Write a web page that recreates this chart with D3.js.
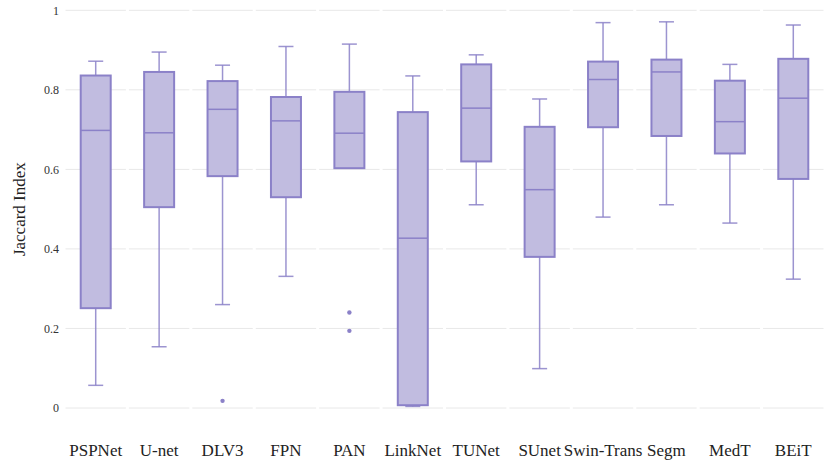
<!DOCTYPE html>
<html>
<head>
<meta charset="utf-8">
<script src="https://cdn.jsdelivr.net/npm/d3@7"></script>
<style>
  body { margin: 0; background: #fff; }
  svg { display: block; font-family: "Liberation Serif", "Times New Roman", serif; }
</style>
</head>
<body>
<svg id="chart" width="837" height="464"></svg>
<script>
// models on the x axis
const models = ["PSPNet", "U-net", "DLV3", "FPN", "PAN", "LinkNet", "TUNet", "SUnet", "Swin-Trans", "Segm", "MedT", "BEiT"]

// box statistics
const lowerWhisker = [0.057, 0.154, 0.260, 0.331, 0.603, 0.004, 0.511, 0.099, 0.480, 0.511, 0.465, 0.324]
const q1 = [0.251, 0.505, 0.583, 0.530, 0.603, 0.007, 0.620, 0.380, 0.706, 0.684, 0.640, 0.576]
const median = [0.698, 0.692, 0.751, 0.722, 0.691, 0.427, 0.754, 0.549, 0.826, 0.845, 0.720, 0.779]
const q3 = [0.836, 0.845, 0.822, 0.782, 0.795, 0.744, 0.864, 0.707, 0.871, 0.876, 0.823, 0.878]
const upperWhisker = [0.872, 0.895, 0.862, 0.909, 0.915, 0.835, 0.888, 0.777, 0.969, 0.971, 0.864, 0.963]
const outliers = [[], [], [0.018], [], [0.240, 0.194], [], [], [], [], [], [], []]

const yTicks = [0, 0.2, 0.4, 0.6, 0.8, 1]

const width = 837, height = 464
const margin = { top: 10, right: 12, bottom: 56, left: 64 }

const stroke = "#8b81c8"
const fill = "#c1bce0"

const svg = d3.select("#chart")

const x = d3.scaleBand()
  .domain(models)
  .range([margin.left, width - margin.right])

const y = d3.scaleLinear()
  .domain([0, 1])
  .range([height - margin.bottom, margin.top + 0.3])

// grid, broken at every band edge
const grid = svg.append("g")
yTicks.forEach(t => {
  grid.selectAll(null)
    .data(models)
    .enter().append("line")
      .attr("x1", d => x(d) + 1.5)
      .attr("x2", d => x(d) + x.bandwidth() - 1.5)
      .attr("y1", y(t))
      .attr("y2", y(t))
      .attr("stroke", "#e8e8e8")
      .attr("stroke-width", 1)
})

// y axis labels
svg.append("g")
  .attr("transform", `translate(${margin.left - 2},0)`)
  .call(d3.axisLeft(y).tickValues(yTicks).tickSize(0).tickFormat(d3.format("~g")))
  .call(g => g.select(".domain").remove())
  .call(g => g.selectAll("text")
    .attr("font-family", "Liberation Serif, serif")
    .attr("font-size", 12)
    .attr("fill", "#333"))

// x axis labels
svg.append("g")
  .attr("transform", `translate(0,${height - margin.bottom})`)
  .call(d3.axisBottom(x).tickSize(0).tickPadding(36))
  .call(g => g.select(".domain").remove())
  .call(g => g.selectAll("text")
    .attr("font-family", "Liberation Serif, serif")
    .attr("font-size", 17)
    .attr("fill", "#222"))

svg.append("text")
  .attr("transform", `translate(25,${(y(0) + y(1)) / 2}) rotate(-90)`)
  .attr("text-anchor", "middle")
  .attr("font-size", 17)
  .attr("fill", "#222")
  .text("Jaccard Index")

const boxW = 30, capW = 15

const boxes = svg.append("g")
  .selectAll("g")
  .data(models.map((m, i) => ({
    name: m, lo: lowerWhisker[i], q1: q1[i], med: median[i], q3: q3[i], hi: upperWhisker[i], out: outliers[i]
  })))
  .enter().append("g")
    .attr("transform", d => `translate(${x(d.name) + x.bandwidth() / 2},0)`)

// whiskers
boxes.append("line")
  .attr("y1", d => y(d.hi)).attr("y2", d => y(d.q3))
  .attr("stroke", stroke).attr("stroke-width", 1.5).attr("stroke-opacity", 0.85)
boxes.append("line")
  .attr("y1", d => y(d.q1)).attr("y2", d => y(d.lo))
  .attr("stroke", stroke).attr("stroke-width", 1.5).attr("stroke-opacity", 0.85)
boxes.append("line")
  .attr("x1", -capW / 2).attr("x2", capW / 2)
  .attr("y1", d => y(d.hi)).attr("y2", d => y(d.hi))
  .attr("stroke", stroke).attr("stroke-width", 1.5).attr("stroke-opacity", 0.85)
boxes.filter(d => d.lo < d.q1)
  .append("line")
  .attr("x1", -capW / 2).attr("x2", capW / 2)
  .attr("y1", d => y(d.lo)).attr("y2", d => y(d.lo))
  .attr("stroke", stroke).attr("stroke-width", 1.5).attr("stroke-opacity", 0.85)

// box
boxes.append("rect")
  .attr("x", -boxW / 2)
  .attr("width", boxW)
  .attr("y", d => y(d.q3))
  .attr("height", d => y(d.q1) - y(d.q3))
  .attr("fill", fill)
  .attr("stroke", stroke)
  .attr("stroke-width", 2)

// median
boxes.append("line")
  .attr("x1", -boxW / 2).attr("x2", boxW / 2)
  .attr("y1", d => y(d.med)).attr("y2", d => y(d.med))
  .attr("stroke", stroke).attr("stroke-width", 1.5)

// outliers
boxes.selectAll("circle")
  .data(d => d.out)
  .enter().append("circle")
    .attr("cy", d => y(d))
    .attr("r", 2.2)
    .attr("fill", stroke)
</script>
</body>
</html>
